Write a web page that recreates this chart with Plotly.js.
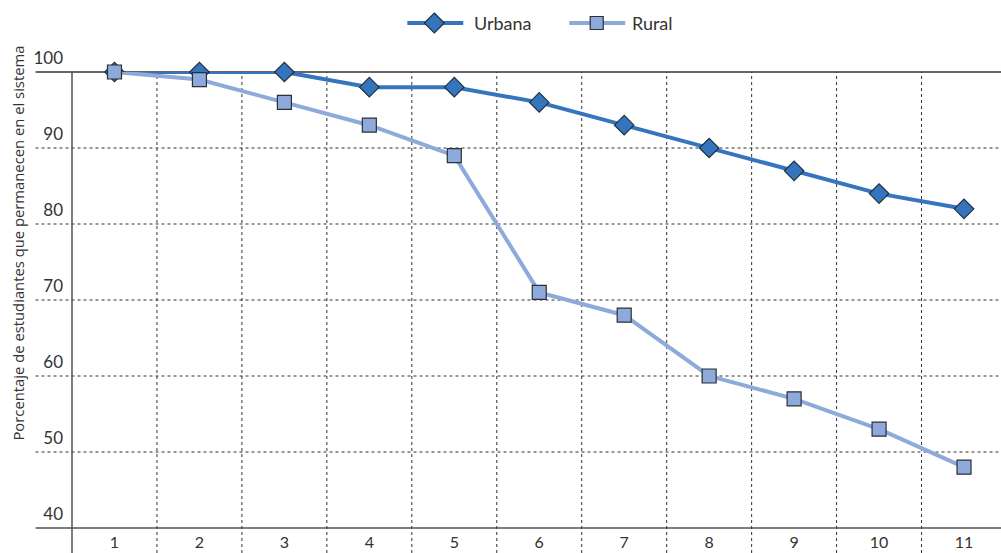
<!DOCTYPE html>
<html>
<head>
<meta charset="utf-8">
<script src="https://cdn.plot.ly/plotly-3.0.1.min.js"></script>
<style>html,body{margin:0;padding:0;background:#fff;}#chart{width:1001px;height:553px;}</style>
</head>
<body>
<div id="chart"></div>
<script>
const grades = [1, 2, 3, 4, 5, 6, 7, 8, 9, 10, 11];
const urbana = [100, 100, 100, 98, 98, 96, 93, 90, 87, 84, 82];
const rural = [100, 99, 96, 93, 89, 71, 68, 60, 57, 53, 48];
const yTicks = [40, 50, 60, 70, 80, 90, 100];
const seriesNames = ['Urbana', 'Rural'];
const yTitle = 'Porcentaje de estudiantes que permanecen en el sistema';

const W = 1001, H = 553;
const mL = 71.5, mT = 72, mB = 25, mR = 0;
const pxPerCat = 85;
const xMin = 0.5;
const xMax = xMin + (W - mL - mR) / pxPerCat;
const yMin = 40, yMax = 100;
const plotH = H - mT - mB;
const plotW = W - mL - mR;

const yToPaper = v => (v - yMin) / (yMax - yMin);
const xToPaper = v => (v - xMin) / (xMax - xMin);
const px = p => (p - mL) / plotW;          // pixel x -> paper
const py = p => (H - mB - p) / plotH;      // pixel y -> paper
const bottomPaper = py(H);

const urbColor = '#3475be', rurColor = '#8eaadb';
const outline = '#22303f';

const shapes = [];
// horizontal gridlines (extend left of the axis)
yTicks.forEach(v => {
  if (v === yMin) return;
  shapes.push({type: 'line', xref: 'paper', yref: 'paper', layer: 'below',
    x0: px(35), x1: 1.01, y0: yToPaper(v), y1: yToPaper(v),
    line: {color: '#333', width: v === yMax ? 1.5 : 1, dash: v === yMax ? 'solid' : 'dot'}});
});
// x axis line
shapes.push({type: 'line', xref: 'paper', yref: 'paper', layer: 'below',
  x0: px(35), x1: 1.01, y0: 0, y1: 0, line: {color: '#555', width: 1.5}});
// vertical category boundaries
grades.forEach(g => {
  if (g === grades[0]) return;
  shapes.push({type: 'line', xref: 'paper', yref: 'paper', layer: 'below',
    x0: xToPaper(g - 0.5), x1: xToPaper(g - 0.5), y0: bottomPaper, y1: 1,
    line: {color: '#333', width: 1, dash: 'dot'}});
});
// y axis line
shapes.push({type: 'line', xref: 'paper', yref: 'paper', layer: 'below',
  x0: 0, x1: 0, y0: bottomPaper, y1: 1, line: {color: '#555', width: 1.5}});

// custom legend (symbols)
const legY = 23;
// Urbana
shapes.push({type: 'line', xref: 'paper', yref: 'paper', x0: px(407), x1: px(463), y0: py(legY), y1: py(legY),
  line: {color: urbColor, width: 4}});
shapes.push({type: 'path', xref: 'paper', yref: 'paper',
  path: `M${px(434)},${py(legY-10)} L${px(444)},${py(legY)} L${px(434)},${py(legY+10)} L${px(424)},${py(legY)} Z`,
  fillcolor: urbColor, line: {color: outline, width: 1.2}});
// Rural
shapes.push({type: 'line', xref: 'paper', yref: 'paper', x0: px(569), x1: px(625), y0: py(legY), y1: py(legY),
  line: {color: rurColor, width: 4}});
shapes.push({type: 'rect', xref: 'paper', yref: 'paper',
  x0: px(590), x1: px(603), y0: py(legY-6.5), y1: py(legY+6.5),
  fillcolor: rurColor, line: {color: '#2b2f36', width: 1.2}});

const traces = [
  {x: grades, y: urbana, name: seriesNames[0], type: 'scatter', mode: 'lines+markers', cliponaxis: false,
   line: {color: urbColor, width: 4},
   marker: {symbol: 'diamond', size: 15, color: urbColor, line: {color: outline, width: 1.2}}},
  {x: grades, y: rural, name: seriesNames[1], type: 'scatter', mode: 'lines+markers', cliponaxis: false,
   line: {color: rurColor, width: 4},
   marker: {symbol: 'square', size: 14, color: rurColor, line: {color: '#2b2f36', width: 1.2}}}
];

const layout = {
  width: W, height: H,
  margin: {l: mL, r: mR, t: mT, b: mB, pad: 0},
  paper_bgcolor: '#fff', plot_bgcolor: 'rgba(0,0,0,0)',
  font: {family: 'Lato, "Open Sans", sans-serif', color: '#333', size: 16},
  showlegend: false,
  xaxis: {range: [xMin, xMax], tickmode: 'array', tickvals: grades, ticktext: grades.map(String),
    showgrid: false, zeroline: false, showline: false, ticks: '', ticklabelstandoff: 3,
    tickfont: {size: 16, color: '#333'}, fixedrange: true},
  yaxis: {range: [yMin, yMax], tickmode: 'array', tickvals: yTicks, ticktext: yTicks.map(String),
    showgrid: false, zeroline: false, showline: false, ticks: '', ticklabelshift: -14, ticklabelstandoff: 8,
    tickfont: {size: 17, color: '#333'}, fixedrange: true},
  shapes: shapes,
  annotations: [
    {text: yTitle, xref: 'paper', yref: 'paper', x: px(17), y: py(243),
     xanchor: 'center', yanchor: 'middle', textangle: -90, showarrow: false,
     font: {size: 14.8, color: '#333', family: '"Open Sans", sans-serif'}},
    {text: seriesNames[0], xref: 'paper', yref: 'paper', x: px(472), y: py(legY), xanchor: 'left', yanchor: 'middle',
     showarrow: false, font: {size: 18, color: '#333'}},
    {text: seriesNames[1], xref: 'paper', yref: 'paper', x: px(630), y: py(legY), xanchor: 'left', yanchor: 'middle',
     showarrow: false, font: {size: 18, color: '#333'}}
  ]
};

Plotly.newPlot('chart', traces, layout, {displayModeBar: false, staticPlot: true});
</script>
</body>
</html>
